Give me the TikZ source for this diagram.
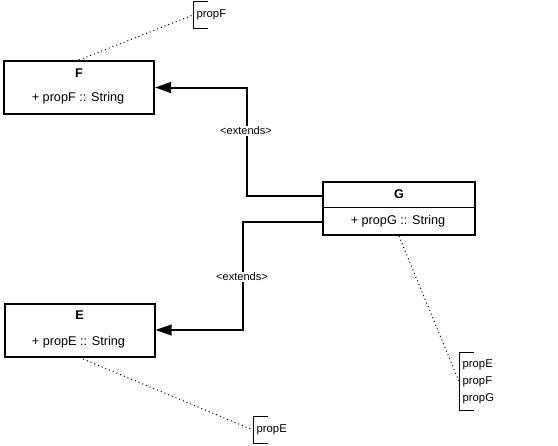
\documentclass[tikz,border=0pt]{standalone}
\usepackage{fontspec}
\setmainfont{Liberation Sans}
\usetikzlibrary{arrows.meta}
\tikzset{
  classbox/.style={draw,line width=1.5pt,minimum width=112.5pt,minimum height=39.75pt,inner sep=0pt},
  title/.style={font=\fontsize{9.5}{11}\selectfont\bfseries},
  attr/.style={font=\fontsize{9.5}{11}\selectfont},
  ext/.style={line width=1.5pt,-{Triangle[length=12pt,width=8pt]}},
  extlabel/.style={fill=white,inner sep=1pt,font=\fontsize{8.3}{10}\selectfont},
  note/.style={anchor=west,align=left,inner xsep=2.5pt,inner ysep=0pt,font=\fontsize{8.5}{12.75}\selectfont},
  bracket/.style={line width=0.75pt},
  notelink/.style={line width=0.75pt,dash pattern=on 0.75pt off 2.25pt},
}
\begin{document}
\begin{tikzpicture}[x=0.75pt,y=-0.75pt]
\useasboundingbox (0,0) rectangle (558,446);
% classes
\node[classbox] (F) at (79,87.5) {};
\node[title] (Ft) at (79,73) {F};
\node[attr] (Fa) at (78,98) {+ propF :: String};
\node[classbox] (E) at (79.5,330) {};
\node[title] (Et) at (79.5,315) {E};
\node[attr] (Ea) at (78.5,342) {+ propE :: String};
\node[classbox,minimum width=114pt] (G) at (399,208.5) {};
\node[title] (Gt) at (399,194) {G};
\node[attr] (Ga) at (398,221) {+ propG :: String};
\coordinate (gdiv) at (0,207);
\draw[bracket] (G.west |- gdiv) -- (G.east |- gdiv);
% generalisations
\coordinate (gF) at (323,196);
\coordinate (gE) at (323,222);
\draw[ext] (gF) -- (247,196) |- (F.east);
\node[extlabel] (lF) at (246,131) {<extends>};
\draw[ext] (gE) -- (243,222) |- (E.east);
\node[extlabel] (lE) at (242,277) {<extends>};
% notes
\node[note,minimum height=19.5pt] (nF) at (193,15) {propF};
\node[note,minimum height=19.5pt] (nE) at (253,430) {propE};
\node[note,minimum height=42.75pt] (nG) at (459,381.5) {propE\\propF\\propG};
\foreach \n in {nF,nE,nG}
  \draw[bracket] ([xshift=11.25pt]\n.north west) -- (\n.north west) -- (\n.south west) -- ([xshift=11.25pt]\n.south west);
\draw[notelink] (F.north) -- (nF.west);
\draw[notelink] (E.south) -- (nE.west);
\draw[notelink] (G.south) -- (nG.west);
\end{tikzpicture}
\end{document}
